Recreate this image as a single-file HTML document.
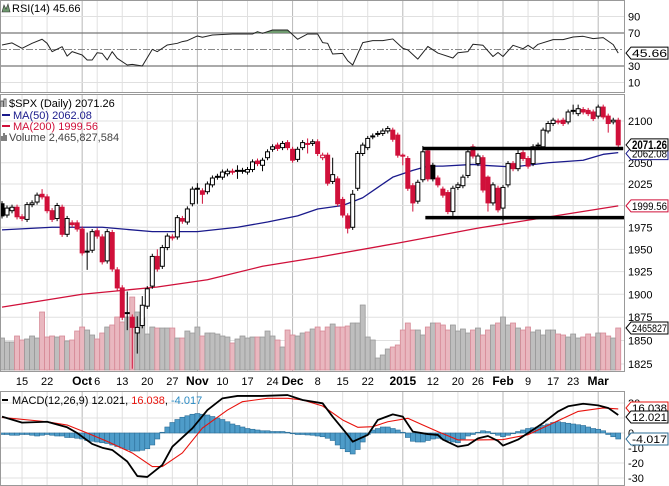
<!DOCTYPE html>
<html><head><meta charset="utf-8"><style>
body{margin:0;background:#fff;}
svg{display:block;font-family:"Liberation Sans",sans-serif;}
</style></head><body>
<svg id="chart" width="669" height="486" viewBox="0 0 669 486" xmlns="http://www.w3.org/2000/svg">
<defs>
<clipPath id="plotClip"><rect x="0" y="0" width="624" height="486"/></clipPath>
<clipPath id="rsiClip"><rect x="0" y="0" width="624" height="33"/></clipPath>
</defs>
<g id="grid"></g>
<g id="vol" clip-path="url(#plotClip)"></g>
<g id="price" clip-path="url(#plotClip)"></g>
<g id="rsi" clip-path="url(#plotClip)"></g>
<g id="macd" clip-path="url(#plotClip)"></g>
<g id="frames"></g>
<g id="labels"></g>
</svg>
<script>
const opens=[2002,1989,1994,1998,1987,1984,2001,2004,2013,2010,
1994,1985,1998,1967,1980,1980,1973,1947,1949,1971,
1964,1937,1969,1927,1907,1879,1875,1858,1866,1887,
1909,1942,1931,1952,1964,1964,1985,1981,2002,2020,
2017,2016,2024,2033,2033,2037,2040,2040,2040,2039,
2042,2052,2047,2056,2066,2071,2068,2074,2066,2054,
2068,2073,2073,2075,2056,2059,2028,2031,2007,1988,
1975,2020,2061,2068,2081,2085,2085,2088,2089,2083,
2059,2055,2023,2005,2030,2064,2047,2032,2019,2015,
1993,2021,2023,2035,2069,2049,2056,2033,2003,2020,
1997,2024,2049,2043,2062,2055,2049,2070,2069,2088,
2097,2099,2101,2099,2112,2109,2114,2113,2111,2106,
2117,2106,2099,2101];
const closes=[1988,1997,1998,1987,1985,2001,2003,2012,2010,1994,
1984,2000,1967,1985,1978,1973,1946,1948,1970,1965,
1936,1970,1928,1907,1875,1880,1864,1864,1888,1906,
1942,1928,1952,1965,1963,1986,1982,1996,2019,2019,
2013,2025,2032,2034,2039,2040,2039,2041,2041,2042,
2051,2049,2053,2063,2069,2067,2073,2068,2053,2066,
2074,2072,2075,2061,2059,2026,2036,2002,1989,1974,
2013,2061,2071,2079,2082,2084,2088,2091,2078,2059,
2058,2020,2003,2027,2063,2031,2031,2024,2012,1993,
2020,2024,2033,2063,2058,2058,2018,2003,2024,1995,
2021,2049,2043,2061,2055,2046,2069,2071,2089,2097,
2101,2100,2097,2111,2113,2115,2111,2109,2103,2117,
2105,2097,2101,2071.26];
const upWick=[3,3,3,3,3,3,3,3,6,3, 3,3,3,3,3,3,3,21,3,3, 3,3,3,3,3,23,3,12,10,3, 3,8,3,3,3,3,3,3,3,6,
3,3,3,3,3,3,3,6,3,3, 3,3,3,3,3,3,3,3,3,3, 3,6,3,3,3,3,20,3,3,3, 5,3,3,3,3,3,3,3,3,3,
2,3,3,3,7,3,3,3,3,3, 3,3,3,3,3,3,3,2,3,3, 3,3,3,4,3,3,3,3,3,3, 3,3,3,3,7,5,3,3,3,3, 3,3,3,3];
const downWick=[3,3,3,3,3,3,3,3,3,3, 3,3,3,3,3,3,3,20,3,3, 3,3,3,3,3,18,44,22,3,3, 3,3,3,3,3,3,3,3,3,17,
11,3,3,3,3,3,3,9,3,3, 3,3,7,3,3,3,3,3,3,3, 3,11,3,3,3,3,3,3,3,6, 3,3,3,3,3,3,3,3,3,3,
11,3,10,3,3,3,3,3,3,3, 5,3,3,3,3,3,3,10,3,3, 15,3,3,3,3,3,3,3,3,3, 3,3,3,3,4,3,3,3,3,3, 3,11,3,3];
const volumes=[1878,1644,1644,1996,1761,1820,1996,1878,3405,1937,1996,1937,1996,1702,1761,2289,2524,2348,2055,1820,2172,2524,2642,3111,2818,3111,4285,3405,3052,2113,2524,2465,
2465,2465,2465,1878,1878,2289,2172,2524,
1996,2172,2172,2113,1996,1937,1585,1820,1996,
1878,1937,1937,1937,2289,1996,1761,1350,2348,2055,
1996,2172,2231,2407,2524,2289,2524,2700,2524,
2524,2583,2759,2759,
3816,1937,1761,704,881,1233,1350,1468,2348,2759,
2348,2348,2055,2524,2759,2759,2642,2348,2642,2289,2407,2172,2348,
2465,2055,2348,2642,2759,3111,2642,2759,2465,2348,2524,2231,2348,
2055,2348,2348,2113,2055,1937,2113,1878,1937,2113,1937,2172,2172,1996,1878,2466];
const ma50Idx=[0,10,20,30,39,47,53,59,63,68,72,75,78,82,85,88,94,96,102,109,116,120,123];
const ma50Val=[1972,1975,1975,1970,1970,1975,1981,1988,1996,2000,2009,2021,2033,2041,2046,2046,2048,2047,2045,2050,2053,2060,2062.08];
const ma200Idx=[0,16,31,41,52,63,79,95,123];
const ma200Val=[1886,1900,1908,1916,1931,1941,1957,1974,1999.56];
const rsiIdx=[0,2,4,6,8,9,10,12,13,14,16,17,18,19,20,21,22,23,25,26,28,30,31,33,35,36,37,39,40,42,46,50,51,52,54,57,59,61,63,64,65,66,68,69,70,72,74,76,78,80,81,83,85,87,90,91,93,94,96,98,99,100,102,104,105,106,107,110,112,114,116,118,120,122,123];
const rsiVal=[55.5,58,51.5,57.5,62.4,57.5,47.4,53.4,42,47.4,43.3,37.3,37.3,46.1,45.3,37.3,47.4,39.3,31.2,32,30,50.2,47.4,55.5,57.5,59.6,60.8,66.4,64.8,67.6,68.8,68.8,71.6,69.6,73.6,73.6,62.4,68.8,68.8,58.3,57.5,44.5,45.3,36.4,31.2,58.3,60.8,60.8,62.8,51.5,49.5,38.4,53.7,45.7,39.7,46.1,47.4,56.3,55.1,41.5,46.4,41.5,55.1,51,55.1,51,56.3,62,62,65.2,66,63.2,64.4,55.9,45.66];
const macdIdx=[0,4,9,13,15,18,20,22,25,27,29,32,34,38,41,44,47,52,57,60,64,66,69,70,73,75,78,80,82,85,87,88,91,93,95,97,99,100,103,106,108,111,113,116,119,121,123];
const macdVal=[10.9,6.9,7.5,3.8,0,-7.3,-9.8,-11.3,-19,-28.7,-29.3,-21.3,-9.1,3.1,15.3,23.1,24.7,24.7,25.3,22,19.8,10.9,-1.3,-5.8,-1.3,8.7,12.4,10.9,0.9,-0.7,-1.3,-4.4,-9.1,-8,-3.6,-2,-5.3,-8.4,-4.4,2.2,6.7,14.4,17.8,19.5,18.4,16.7,12.021];
const sigIdx=[0,9,13,17,21,26,30,32,36,40,45,48,53,57,60,64,68,71,74,77,81,84,87,91,95,100,105,110,115,120,123];
const sigVal=[10.4,7.5,5.3,0,-5.6,-13.3,-22.4,-22.4,-13.3,3.3,15.3,20.9,23.1,23.1,22,18,8.7,3.8,4.2,7.5,9.8,5.3,0.9,-4.6,-4.6,-4.4,-1.1,6.7,14.4,16.7,16.038];
const histVal=[-1,-1,-1.5,-1.5,-1,-1,-1.5,-2,-1.5,-1,
-1.5,-2,-2,-3,-3, -3.5,-4,-5,-5.5,-6, -6.5,-7,-8,-9,-10,-11, -12,-12,-11.5,-10.5, -8,-4, 0.5,
4,7,9,10.5, 11.5,12.5,13,12.5, 12,11,10,9, 7.5,6,5,4,3,2.5, 2,1.5,1.5,1,1,1,0.5,
-0.5,-1,-1,-1.3,-1.5,-2, -2.5,-3.5,-5,-8, -10.5,-12.5,-14, -11,-6,-1, 2,3,4,4,3,2,0.5,
-3,-5.5,-6,-6,-5, -4,-3.5,-4,-5,-6,-6.5, -4,-2,-1, 0.5,1.5,1, -0.5,-1.5,-2.5,-1.5,-0.5,
1,2,3,3.5,4, 5,6,7,7.5, 7,6.5,6,5.5,5, 4,3,2.5,1.5, -1,-2.5,-4];
const tickIdx=[4,9,16,19,24,29,34,39,44,49,54,58,63,68,73,80,86,91,95,100,105,110,114,119];
const tickLbl=["15","22","Oct","6","13","20","27","Nov","10","17","24","Dec","8","15","22","2015","12","20","26","Feb","9","17","23","Mar"];
const tickMonth=[0,0,1,0,0,0,0,1,0,0,0,1,0,0,0,1,0,0,0,1,0,0,0,1];
const priceTicks=[2100,2050,2025,1975,1950,1925,1900,1875,1850,1825];
const rsiTicks=[90,70,30,10];
const macdTicks=[0,-10,-20,-30];
const resistance=[84,124,2067];
const support=[84.5,124.5,1986];

const NS="http://www.w3.org/2000/svg";
const X=i=>2+i*5.01;
const YP=p=>364-1731*Math.log(p/1825);
const YR=v=>33+(70-v)*0.825;
const YM=m=>433-m*1.5;
const YV=v=>370-v*0.01703;
function mk(tag,attrs,parent){const e=document.createElementNS(NS,tag);for(const k in attrs)e.setAttribute(k,attrs[k]);parent.appendChild(e);return e;}
const grid=document.getElementById('grid'),vol=document.getElementById('vol'),price=document.getElementById('price'),
rsi=document.getElementById('rsi'),macd=document.getElementById('macd'),frames=document.getElementById('frames'),labels=document.getElementById('labels');

const panels=[[0,92],[94,371],[391,485]];
panels.forEach(p=>{const r=mk('rect',{x:0,y:p[0],width:624,height:p[1]-p[0],fill:'#fff'},grid);

});
tickIdx.forEach((t,k)=>{panels.forEach(p=>{const l=mk('line',{x1:X(t),x2:X(t),y1:p[0],y2:p[1],stroke:tickMonth[k]?'#b8b8b8':'#e0e0e0','stroke-width':1},grid);

});});
priceTicks.concat([2000]).forEach(v=>{const l=mk('line',{x1:0,x2:624,y1:YP(v),y2:YP(v),stroke:'#e0e0e0'},grid);

});
[90,10].forEach(v=>{const l=mk('line',{x1:0,x2:624,y1:YR(v),y2:YR(v),stroke:'#e0e0e0'},grid);

});
[20,10,0,-10,-20,-30].forEach(v=>{const l=mk('line',{x1:0,x2:624,y1:YM(v),y2:YM(v),stroke:'#e0e0e0'},grid);

});

volumes.forEach((v,i)=>{const down=i>0&&closes[i]<closes[i-1];
const r=mk('rect',{x:X(i)-2.5,y:YV(v),width:5,height:370-YV(v),fill:down?'#e9b7bf':'#bebebe',stroke:down?'#d68a97':'#999','stroke-width':0.8},vol);

});

function poly(idx,val,fy,color,w,parent,name){const pts=idx.map((t,k)=>X(t)+','+fy(val[k])).join(' ');
const p=mk('polyline',{points:pts,fill:'none',stroke:color,'stroke-width':w,'stroke-linejoin':'round'},parent);

return p;}
poly(ma200Idx,ma200Val,YP,'#d0103a',1.3,price,'ma200-line');
poly(ma50Idx,ma50Val,YP,'#1a1a8c',1.3,price,'ma50-line');

opens.forEach((o,i)=>{const c=closes[i];const red=i>0&&c<closes[i-1];const col=red?'#d0103a':'#000';
const hi=Math.max(o,c)+upWick[i],lo=Math.min(o,c)-downWick[i];
const w=mk('line',{x1:X(i),x2:X(i),y1:YP(hi),y2:YP(lo),stroke:col,'stroke-width':1},price);


const top=YP(Math.max(o,c)),bot=YP(Math.min(o,c));
const b=mk('rect',{x:X(i)-2,y:top,width:4,height:Math.max(bot-top,1),fill:c<o?col:'#fff',stroke:col,'stroke-width':1},price);

});

[resistance,support].forEach((s,k)=>{const l=mk('line',{x1:X(s[0]),x2:X(s[1]),y1:YP(s[2]),y2:YP(s[2]),stroke:'#000','stroke-width':3.5},price);

});

[70,30].forEach(v=>{const l=mk('line',{x1:0,x2:624,y1:YR(v),y2:YR(v),stroke:'#777','stroke-width':1.2},rsi);

});
const mid=mk('line',{x1:0,x2:624,y1:YR(50),y2:YR(50),stroke:'#888','stroke-dasharray':'7,2,2,2'},rsi);


const fillPts=rsiIdx.map((t,k)=>X(t)+','+YR(rsiVal[k])).join(' ')+' '+X(123)+','+YR(70)+' '+X(0)+','+YR(70);
const rf=mk('polygon',{points:fillPts,fill:'#6f9a6f','clip-path':'url(#rsiClip)'},rsi);


poly(rsiIdx,rsiVal,YR,'#222',1,rsi,'rsi-line');

histVal.forEach((h,i)=>{const y0=YM(0),y1=YM(h);
const r=mk('rect',{x:X(i)-2.5,y:Math.min(y0,y1),width:5,height:Math.max(Math.abs(y1-y0),0.5),fill:'#4e9cc9',stroke:'#2b6d96','stroke-width':0.6},macd);

});
poly(sigIdx,sigVal,YM,'#e8120c',1.1,macd,'macd-signal-line');
poly(macdIdx,macdVal,YM,'#000',1.8,macd,'macd-line');

panels.forEach(p=>{const r=mk('rect',{x:0.5,y:p[0]+0.5,width:624,height:p[1]-p[0],fill:'none',stroke:'#999'},frames);

});

function txt(s,x,y,attrs,name){const t=mk('text',Object.assign({x:x,y:y,'font-size':11,fill:'#000'},attrs||{}),labels);t.textContent=s;

return t;}
priceTicks.forEach(v=>txt(String(v),628,YP(v)+4,{},'price-tick-label'));
rsiTicks.forEach(v=>txt(String(v),628,YR(v)+4,{},'rsi-tick-label'));
txt('20',628,YM(20)+4,{},'macd-tick-label');
macdTicks.forEach(v=>txt(String(v),628,YM(v)+4,{},'macd-tick-label'));
tickIdx.forEach((t,k)=>txt(tickLbl[k],X(t),385,{'text-anchor':'middle','font-weight':tickMonth[k]?'bold':'normal','font-size':tickMonth[k]?12:11},'x-tick-label'));

function tag(s,y,color,bold,name){
const p=mk('polygon',{points:`626,${y} 631,${y-6} 668,${y-6} 668,${y+6} 631,${y+6}`,fill:'#fff',stroke:color,'stroke-width':1},labels);


txt(s,632,y+4,{'font-weight':bold?'bold':'normal','font-size':bold?12:11,textLength:35,lengthAdjust:'spacingAndGlyphs'},name);}
tag('45.66',YR(45.66),'#000',false,'rsi-value-tag');
tag('2062.08',YP(2062.08)+1,'#1a1a8c',false,'ma50-value-tag');
tag('2071.26',YP(2071.26),'#000',true,'price-value-tag');
tag('1999.56',YP(1999.56),'#d0103a',false,'ma200-value-tag');
tag('2465827',YV(2466),'#000',false,'volume-value-tag');
tag('16.038',YM(16.038)-1,'#e8120c',false,'signal-value-tag');
tag('12.021',YM(12.021)+2,'#000',false,'macd-value-tag');
tag('-4.017',YM(-4.017),'#2b6d96',false,'histogram-value-tag');

const ic=mk('polygon',{points:'2,12 4,5 6,9 8,4 10,12',fill:'#6f9a6f',stroke:'#333','stroke-width':0.6},labels);


txt('RSI(14) 45.66',12,12,{},'rsi-legend');
txt('$SPX (Daily) 2071.26',9,107,{},'price-legend');
const i2=mk('path',{d:'M1,107 v-6 h2 v6 M4,107 v-8 h2 v8',stroke:'#333',fill:'none','stroke-width':0.8},labels);


const l50=mk('line',{x1:2,x2:10,y1:115,y2:115,stroke:'#1a1a8c','stroke-width':2},labels);


txt('MA(50) 2062.08',13,119,{fill:'#1a1a8c'},'ma50-legend');
const l200=mk('line',{x1:2,x2:10,y1:126,y2:126,stroke:'#d0103a','stroke-width':2},labels);


txt('MA(200) 1999.56',13,130,{fill:'#d0103a'},'ma200-legend');
const vi=mk('path',{d:'M2,141 v-5 M4,141 v-8 M6,141 v-6',stroke:'#555','stroke-width':1.5},labels);


txt('Volume 2,465,827,584',9,141,{fill:'#444'},'volume-legend');
const ml=mk('line',{x1:2,x2:8,y1:400,y2:400,stroke:'#000','stroke-width':2},labels);


const mt=txt('',12,404,{},'macd-legend');
[['MACD(12,26,9) 12.021, ','#000'],['16.038','#e8120c'],[', ','#000'],['-4.017','#2b8bc4']].forEach(s=>{const sp=document.createElementNS(NS,'tspan');sp.setAttribute('fill',s[1]);sp.textContent=s[0];mt.appendChild(sp);});
</script>
</body></html>
